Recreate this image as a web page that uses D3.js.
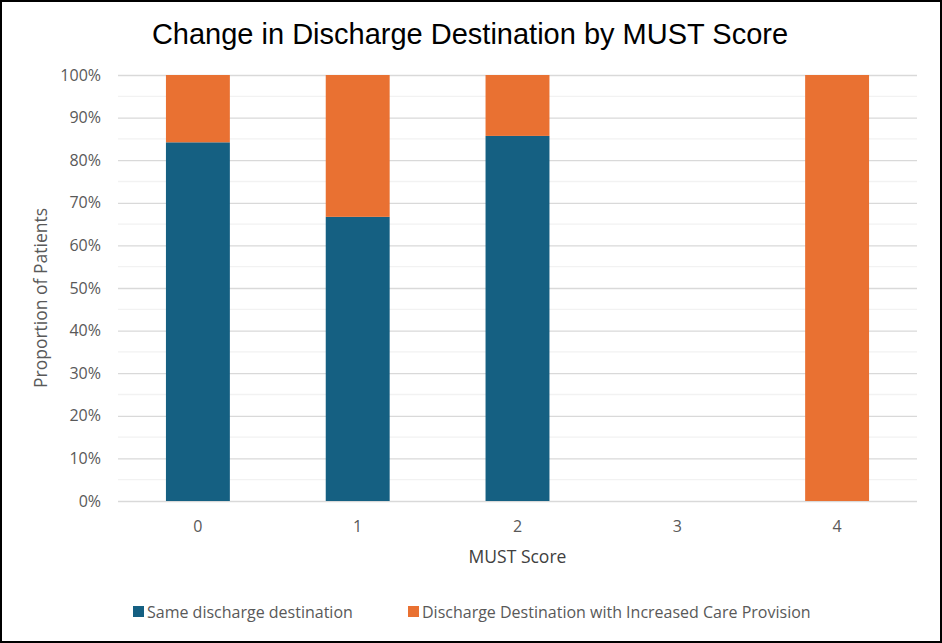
<!DOCTYPE html>
<html>
<head>
<meta charset="utf-8">
<script src="https://cdn.jsdelivr.net/npm/d3@7"></script>
<style>
  body { margin: 0; background: #fff; }
  svg { display: block; }
</style>
</head>
<body>
<div id="chart"></div>
<script>
const scores = ["0", "1", "2", "3", "4"];
const sameDest = [0.842, 0.667, 0.857, 0, 0];
const increasedCare = [0.158, 0.333, 0.143, 0, 1];
const seriesNames = ["Same discharge destination", "Discharge Destination with Increased Care Provision"];
const seriesColors = ["#156082", "#E97132"];

const width = 942;
const height = 643;

const margin = { top: 75, right: 25, bottom: 142, left: 118 };
const usableArea = {
    left: margin.left,
    right: width - margin.right,
    top: margin.top,
    bottom: height - margin.bottom,
};

const labelFont = "Open Sans";

const svg = d3.select("#chart")
    .append("svg")
    .attr("width", width)
    .attr("height", height);

svg.append("rect")
    .attr("x", 1).attr("y", 1)
    .attr("width", width - 2).attr("height", height - 2)
    .attr("fill", "#fff")
    .attr("stroke", "#000")
    .attr("stroke-width", 2);

const xScale = d3.scaleBand()
    .domain(scores)
    .range([usableArea.left, usableArea.right])
    .paddingInner(0.6)
    .paddingOuter(0.3);

const yScale = d3.scaleLinear()
    .domain([0, 1])
    .range([usableArea.bottom, usableArea.top]);

// minor gridlines every 5%
svg.append("g")
    .selectAll("line")
    .data(d3.range(0.05, 1, 0.1))
    .join("line")
    .attr("x1", usableArea.left).attr("x2", usableArea.right)
    .attr("y1", d => yScale(d)).attr("y2", d => yScale(d))
    .attr("stroke", "#f2f2f2")
    .attr("stroke-width", 1.3);

// major gridlines + y labels
const yAxis = svg.append("g")
    .attr("transform", `translate(${usableArea.left},0)`)
    .call(d3.axisLeft(yScale)
        .tickValues(d3.range(0, 1.01, 0.1))
        .tickSize(-(usableArea.right - usableArea.left))
        .tickPadding(17)
        .tickFormat(d3.format(".0%")));
yAxis.select(".domain").remove();
yAxis.selectAll("line").attr("stroke", "#d9d9d9").attr("stroke-width", 1.3);
yAxis.selectAll("text")
    .attr("fill", "#595959")
    .style("font-family", labelFont)
    .style("font-size", "16px");

// stacked bars
const stackData = scores.map((s, i) => ({ score: s, same: sameDest[i], care: increasedCare[i] }));
const stack = d3.stack().keys(["same", "care"]);
const layers = stack(stackData);

svg.append("g")
    .selectAll("g")
    .data(layers)
    .join("g")
    .attr("fill", (d, i) => seriesColors[i])
    .selectAll("rect")
    .data(d => d)
    .join("rect")
    .attr("x", d => xScale(d.data.score))
    .attr("width", xScale.bandwidth())
    .attr("y", d => yScale(d[1]))
    .attr("height", d => yScale(d[0]) - yScale(d[1]));

// x axis labels
const xAxis = svg.append("g")
    .attr("transform", `translate(0,${usableArea.bottom})`)
    .call(d3.axisBottom(xScale).tickSize(0).tickPadding(20));
xAxis.select(".domain").remove();
xAxis.selectAll("text")
    .attr("fill", "#595959")
    .style("font-family", labelFont)
    .style("font-size", "16px");

// titles
svg.append("text")
    .attr("x", 470).attr("y", 44)
    .attr("text-anchor", "middle")
    .style("font-family", "Liberation Sans")
    .style("font-size", "29px")
    .attr("fill", "#000")
    .text("Change in Discharge Destination by MUST Score");

svg.append("text")
    .attr("x", (usableArea.left + usableArea.right) / 2)
    .attr("y", 563)
    .attr("text-anchor", "middle")
    .attr("fill", "#404040")
    .style("font-family", labelFont)
    .style("font-size", "17.5px")
    .text("MUST Score");

svg.append("text")
    .attr("transform", "translate(47,298) rotate(-90)")
    .attr("text-anchor", "middle")
    .attr("fill", "#595959")
    .style("font-family", labelFont)
    .style("font-size", "17.5px")
    .text("Proportion of Patients");

// legend
const legendX = [133, 408];
const legend = svg.append("g")
    .selectAll("g")
    .data(seriesNames)
    .join("g")
    .attr("transform", (d, i) => `translate(${legendX[i]},606)`);
legend.append("rect")
    .attr("width", 11).attr("height", 11)
    .attr("fill", (d, i) => seriesColors[i]);
legend.append("text")
    .attr("x", 14).attr("y", 11.5)
    .attr("fill", "#595959")
    .style("font-family", labelFont)
    .style("font-size", "16px")
    .text(d => d);
</script>
</body>
</html>
